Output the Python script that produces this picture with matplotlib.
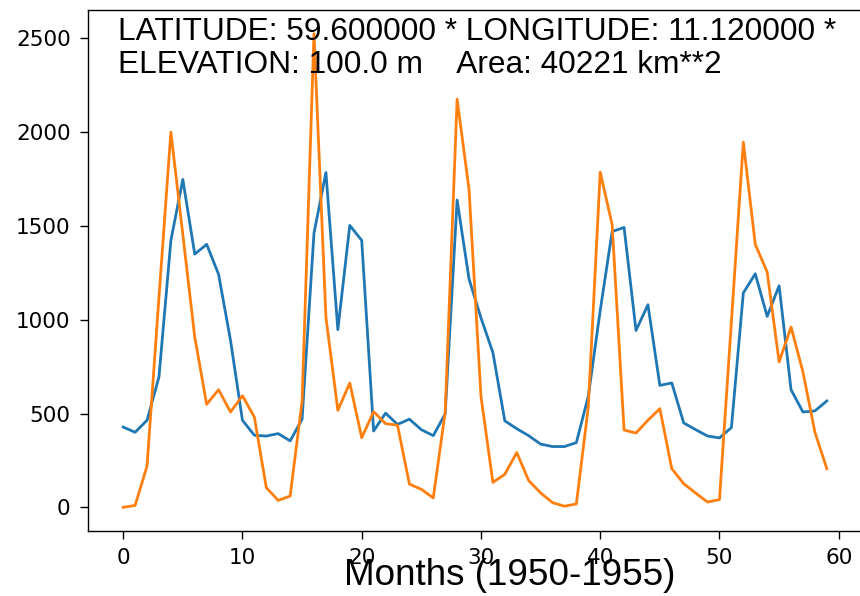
import matplotlib
matplotlib.use("Agg")
import matplotlib.pyplot as plt

months = list(range(60))
series_a = [428, 400, 464, 695, 1423, 1748, 1350, 1402, 1242, 890,
            464, 384, 380, 393, 354, 470, 1462, 1785, 947, 1503,
            1423, 407, 502, 442, 470, 414, 382, 498, 1638, 1217,
            1010, 825, 461, 419, 382, 337, 324, 324, 345, 592,
            1050, 1470, 1492, 943, 1080, 650, 663, 450, 414, 380,
            370, 425, 1143, 1245, 1018, 1181, 627, 508, 514, 567]
series_b = [0, 10, 220, 1120, 2000, 1455, 908, 549, 627, 508,
            595, 481, 105, 37, 60, 565, 2525, 1014, 517, 663,
            371, 510, 446, 438, 124, 96, 50, 507, 2176, 1694,
            592, 133, 176, 292, 143, 77, 25, 6, 18, 535,
            1787, 1507, 412, 396, 464, 526, 206, 126, 76, 28,
            41, 990, 1947, 1402, 1254, 775, 961, 721, 401, 206]
xticks = [0, 10, 20, 30, 40, 50, 60]
yticks = [0, 500, 1000, 1500, 2000, 2500]
info_text = "LATITUDE: 59.600000 * LONGITUDE: 11.120000 *\nELEVATION: 100.0 m    Area: 40221 km**2"
xlabel = "Months (1950-1955)"

W, H = 860, 596
fig = plt.figure(figsize=(W / 100, H / 100), dpi=100)
left, right, top, bottom = 88, 862, 10, 531
ax = fig.add_axes([left / W, (H - bottom) / H, (right - left) / W, (bottom - top) / H])

ax.plot(months, series_a, color="#1f77b4", lw=2.0)
ax.plot(months, series_b, color="#ff7f0e", lw=2.0)

ax.set_xticks(xticks)
ax.set_yticks(yticks)
ax.tick_params(axis="both", labelsize=15.5, length=6, width=1.0, pad=6.5)
for s in ax.spines.values():
    s.set_linewidth(1.0)

ax.set_xlabel(xlabel, fontsize=26.6, family="Liberation Sans")
ax.xaxis.set_label_coords((509.5 - left) / (right - left), -0.052)

fig.text(118 / W, 1 - 17 / H, info_text, fontsize=22.8, family="Liberation Sans",
         ha="left", va="top", linespacing=1.12)

fig.savefig("out.png", dpi=100)
